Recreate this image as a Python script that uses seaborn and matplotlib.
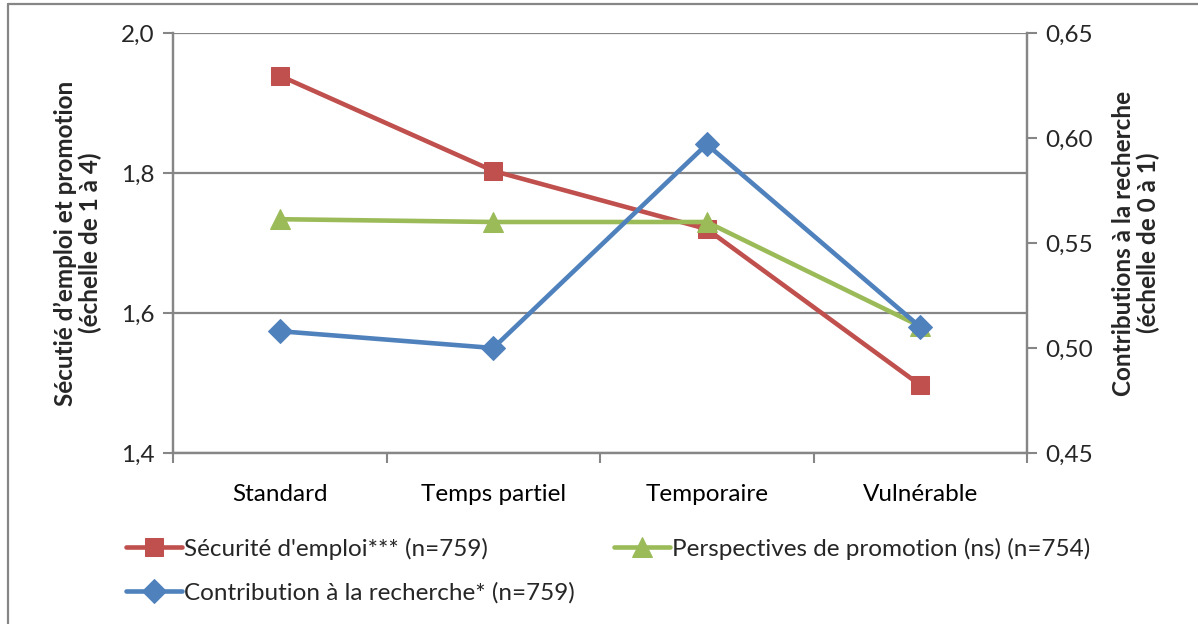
import matplotlib
matplotlib.use("Agg")
import matplotlib.pyplot as plt
import seaborn as sns
import numpy as np
import pandas as pd
from matplotlib.ticker import FuncFormatter, FixedLocator

categories = ["Standard", "Temps partiel", "Temporaire", "Vulnérable"]
securite = [1.939, 1.803, 1.720, 1.497]
promotion = [1.734, 1.730, 1.730, 1.581]
contribution = [0.508, 0.500, 0.597, 0.510]

label_sec = "Sécurité d'emploi*** (n=759)"
label_pro = "Perspectives de promotion (ns) (n=754)"
label_con = "Contribution à la recherche* (n=759)"

left_ticks = [1.4, 1.6, 1.8, 2.0]
right_ticks = [0.45, 0.50, 0.55, 0.60, 0.65]

RED = "#C0504D"
GREEN = "#9BBB59"
BLUE = "#4F81BD"
GRID = "#868686"
FS = 17.5

sns.set_theme(style="white")
plt.rcParams["font.family"] = ["Lato", "DejaVu Sans"]

fig = plt.figure(figsize=(11.98, 6.24), dpi=100)
ax = fig.add_axes([173/1198, 1-453/624, (1027-173)/1198, 420/624])
ax2 = ax.twinx()

df = pd.DataFrame({"cat": categories, "sec": securite, "pro": promotion, "con": contribution})

lw = 3.3
sns.lineplot(data=df, x="cat", y="sec", ax=ax, color=RED, lw=lw, marker="s",
             markersize=13, markeredgecolor=RED, label=label_sec, sort=False, legend=False)
sns.lineplot(data=df, x="cat", y="pro", ax=ax, color=GREEN, lw=lw, marker="^",
             markersize=14, markeredgecolor=GREEN, label=label_pro, sort=False, legend=False)
sns.lineplot(data=df, x="cat", y="con", ax=ax2, color=BLUE, lw=lw, marker="D",
             markersize=12, markeredgecolor=BLUE, label=label_con, sort=False, legend=False)

ax.set_xlim(-0.5, len(categories) - 0.5)
ax.set_ylim(left_ticks[0], left_ticks[-1])
ax2.set_ylim(right_ticks[0], right_ticks[-1])

comma = lambda d: FuncFormatter(lambda v, p: f"{v:.{d}f}".replace(".", ","))
ax.set_yticks(left_ticks)
ax.yaxis.set_major_formatter(comma(1))
ax2.set_yticks(right_ticks)
ax2.yaxis.set_major_formatter(comma(2))

ax.set_xticks(range(len(categories)))
ax.set_xticklabels(categories)
ax.xaxis.set_minor_locator(FixedLocator(np.arange(-0.5, len(categories), 1.0)))
ax.tick_params(axis="x", which="major", length=0, pad=22, labelsize=FS, colors="black")
ax.tick_params(axis="x", which="minor", length=7, width=1.5, color=GRID, direction="out", bottom=True)
ax.tick_params(axis="y", length=7, width=1.5, color=GRID, direction="out", left=True, labelsize=FS, pad=6)
ax2.tick_params(axis="y", length=7, width=1.5, color=GRID, direction="out", right=True, labelsize=FS, pad=6)
ax.set_xlabel("")

ax.grid(axis="y", color=GRID, lw=1.6)
ax.grid(axis="x", visible=False)
ax2.grid(False)
for a in (ax, ax2):
    for s in a.spines.values():
        s.set_color(GRID)
        s.set_linewidth(1.6)
    a.spines["top"].set_visible(False)

ax.set_ylabel("Sécutié d’emploi et promotion\n(échelle de 1 à 4)", fontsize=FS,
              fontweight="bold", labelpad=14, linespacing=1.05)
ax2.set_ylabel("Contributions à la recherche\n(échelle de 0 à 1)", fontsize=FS,
               fontweight="bold", labelpad=14, linespacing=1.05, rotation=90)

h1, l1 = ax.get_legend_handles_labels()
h2, l2 = ax2.get_legend_handles_labels()
hmap = dict(zip(l1 + l2, h1 + h2))
order = [label_sec, label_con, label_pro]
fig.legend([hmap[k] for k in order], order, ncol=2, loc="upper left",
           bbox_to_anchor=(104/1198, 1-516/624), frameon=False, fontsize=FS,
           handlelength=2.3, handletextpad=0.1, columnspacing=1.6, labelspacing=0.9)

fig.add_artist(plt.Line2D([8/1198, 1], [1-4/624, 1-4/624], transform=fig.transFigure, color=GRID, lw=1.6))
fig.add_artist(plt.Line2D([8/1198, 8/1198], [0, 1-4/624], transform=fig.transFigure, color=GRID, lw=1.6))

fig.savefig("out.png", dpi=100)
